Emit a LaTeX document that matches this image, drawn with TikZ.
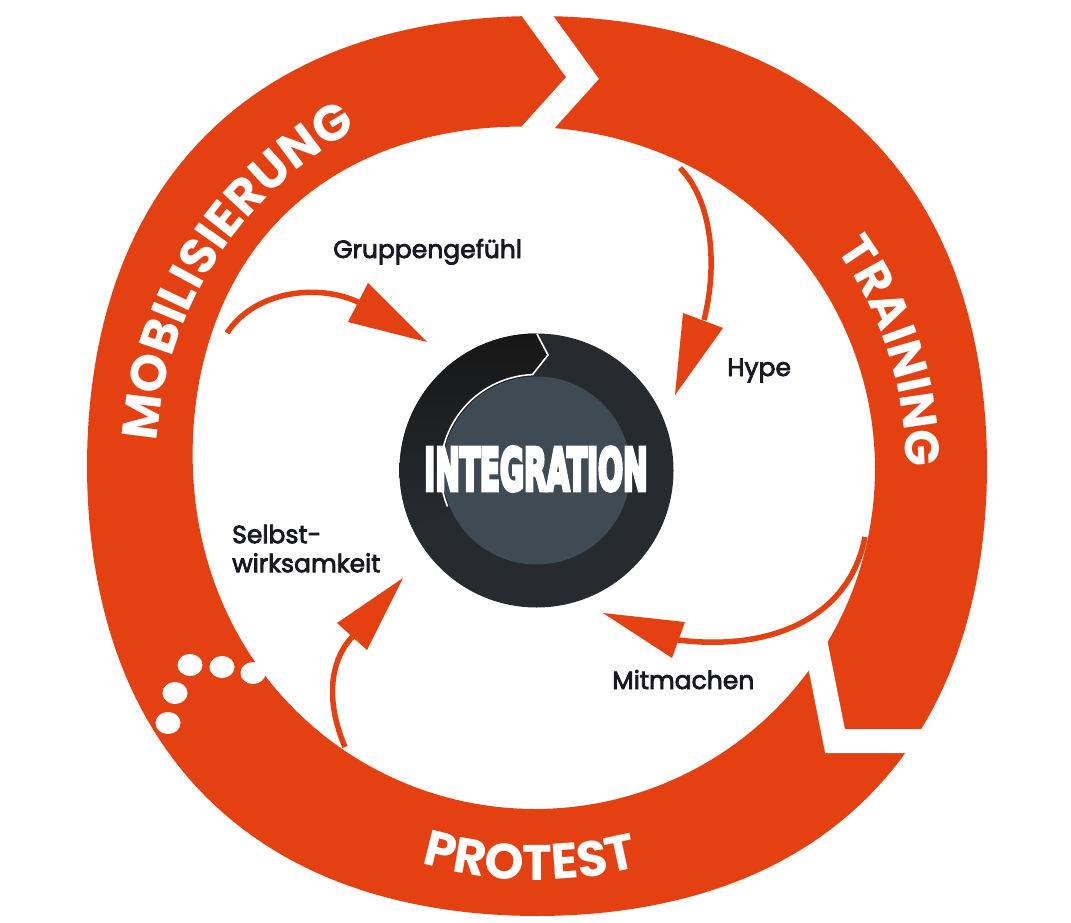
\documentclass[tikz,border=0pt]{standalone}
\usepackage{fontspec}
\usetikzlibrary{decorations.text,calc}
\newfontfamily\popfam{Poppins}
\newfontfamily\labfam{Poppins}[FakeBold=3]
\newfontfamily\intfam{DejaVu Sans}[FakeBold=8]
\definecolor{ringor}{RGB}{228,64,17}
\definecolor{discdark}{RGB}{39,43,48}
\definecolor{discin}{RGB}{62,74,84}
\definecolor{discblack}{RGB}{22,22,22}
\definecolor{labelc}{RGB}{24,24,36}
\newcommand\ringfontA{\popfam\bfseries\fontsize{50}{50}\selectfont}
\newcommand\ringfontB{\popfam\bfseries\fontsize{48}{48}\selectfont}
\begin{document}
\begin{tikzpicture}[x=1pt,y=1pt,
  declare function={rout(\a)=459-9*cos(4*\a); bmp(\a)=max(0,cos(\a-135)); rin(\a)=340+17*bmp(\a)*bmp(\a)*bmp(\a)*bmp(\a)*bmp(\a)*bmp(\a);},
  shaft/.style={draw=ringor, line width=5.5},
  headtri/.style={fill=ringor},
  lab/.style={inner sep=0, anchor=base west, text=labelc, font=\labfam\fontsize{25}{29}\selectfont}
]
\useasboundingbox (0,0) rectangle (1071,-923);
\fill[white] (0,0) rectangle (1071,-923);
\coordinate (rc) at (537,-466);
\coordinate (cc) at (536.5,-470.5);
% ring
\fill[ringor, even odd rule]
  plot[domain=0:360, samples=241, variable=\t] ({537+rout(\t)*cos(\t)}, {-466+rout(\t)*sin(\t)}) -- cycle
  plot[domain=0:360, samples=241, variable=\t] ({535+rin(\t)*cos(\t)}, {-469+rin(\t)*sin(\t)}) -- cycle;
% gaps
\draw[white, line width=25.5] (528.5,-3.6) -- (582.5,-78) -- (528.5,-138);
\draw[white, line width=24] (812,-625) -- (835,-741) -- (940,-741);
\foreach \x/\y in {190/665,222/667,253/673,175/693,168/723}
  \fill[white] (\x,-\y) ellipse[x radius=12.5, y radius=11];
% ring texts
\path[decorate, decoration={text along path, text align=center, text color=white, text={|\ringfontA|MOBILISIERUNG}}]
  ($(rc)+(187.2:381)$) arc[start angle=187.2, end angle=107.2, radius=381];
\path[decorate, decoration={text along path, text align=center, text color=white, text={|\ringfontB|TRAINING}}]
  ($(rc)+(57.8:369)$) arc[start angle=57.8, end angle=-22.2, radius=369];
\path[decorate, decoration={text along path, text align=center, text color=white, text={|\ringfontA|PROTEST}}]
  ($(rc)+(229:414)$) arc[start angle=229, end angle=309, radius=414];
% arrows
\coordinate (a1s) at (227,-333); \coordinate (a1b) at (360,-303); \coordinate (a1t) at (427,-342);
\draw[shaft] (a1s) .. controls (255,-290) and (320,-283) .. (a1b);
\fill[headtri] (368,-283) -- (a1t) -- (348,-322) -- cycle;
\coordinate (a2s) at (680,-168); \coordinate (a2b) at (704,-320); \coordinate (a2t) at (675,-395);
\draw[shaft] (a2s) .. controls (712,-200) and (718,-265) .. (a2b);
\fill[headtri] (683,-313) -- (a2t) -- (723,-328) -- cycle;
\coordinate (a3s) at (865,-537); \coordinate (a3b) at (678,-640); \coordinate (a3t) at (603,-613);
\draw[shaft] (a3s) .. controls (850,-615) and (775,-652) .. (a3b);
\fill[headtri] (685,-622) -- (a3t) -- (672,-658) -- cycle;
\coordinate (a4s) at (345,-747); \coordinate (a4b) at (353,-636); \coordinate (a4t) at (403,-578);
\draw[shaft] (a4s) .. controls (325,-700) and (330,-660) .. (a4b);
\fill[headtri] (337,-623) -- (a4t) -- (367,-650) -- cycle;
% center disc
\fill[discdark] (cc) circle[radius=137];
\shade[top color=discblack, bottom color=discdark]
  ($(cc)+(205:94)$) arc[start angle=205, end angle=92.4, radius=94] -- (548,-355) -- (537,-333.5)
  arc[start angle=89.8, end angle=205, radius=137] -- cycle;
\fill[discin] (cc) circle[radius=94];
\draw[white, line width=1.6] ($(cc)+(202:96)$) arc[start angle=202, end angle=92.4, radius=96] -- (548,-355) -- (537,-334);
\node[text=white, inner sep=0] (integ) at (536,-469) {\scalebox{0.51}[1]{\intfam\bfseries\fontsize{57.6}{57.6}\selectfont INTEGRATION}};
% labels
\node[lab] (grp) at (333,-258) {Gruppengefühl};
\node[lab] (hype) at (727,-376) {Hype};
\node[lab] (mit) at (612,-689) {Mitmachen};
\node[lab, anchor=north west, align=left] (selbst) at (232,-524.5) {Selbst-\\wirksamkeit};
\end{tikzpicture}
\end{document}
